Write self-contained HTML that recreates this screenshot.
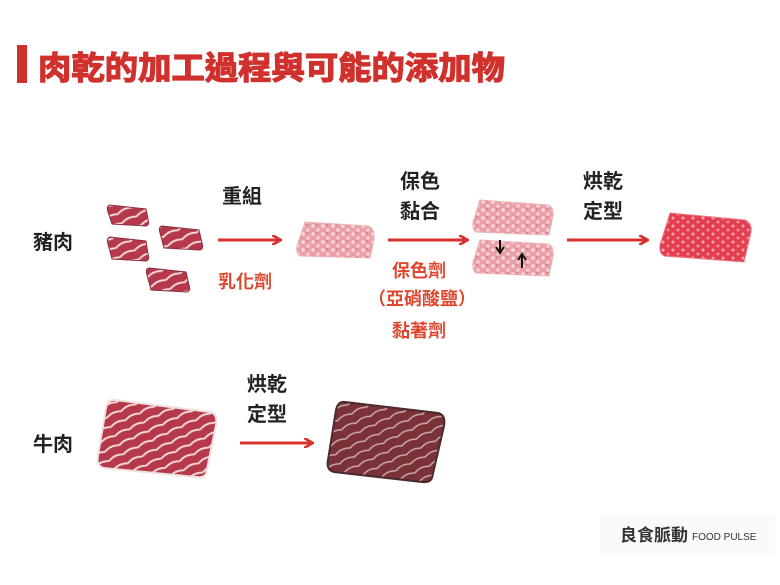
<!DOCTYPE html>
<html><head><meta charset="utf-8"><style>
body{margin:0;background:#fff;}
svg{display:block;}
text{font-family:"Liberation Sans","Noto Sans CJK TC",sans-serif;}
</style></head><body>
<svg width="780" height="585" viewBox="0 0 780 585" xmlns="http://www.w3.org/2000/svg">
<defs>
<marker id="ah" markerWidth="10" markerHeight="10" refX="8" refY="5" orient="auto" markerUnits="userSpaceOnUse"><path d="M0,0 L9,5 L0,10" fill="none" stroke="#d8322e" stroke-width="2.6"/></marker>
<pattern id="marb" width="10" height="8" patternUnits="userSpaceOnUse"><rect width="10" height="8" fill="#eaa0a6"/><circle cx="3" cy="2" r="1.8" fill="#f8dcdf"/><circle cx="8" cy="6" r="1.8" fill="#f6d0d4"/><circle cx="7" cy="1" r="1" fill="#d77a84"/></pattern>
<pattern id="marb2" width="10" height="8" patternUnits="userSpaceOnUse"><rect width="10" height="8" fill="#e33d50"/><circle cx="3" cy="2" r="1.5" fill="#f5a8b1"/><circle cx="8" cy="6" r="1.5" fill="#f2909c"/></pattern>
<pattern id="strk" width="16" height="10" patternUnits="userSpaceOnUse" patternTransform="rotate(-25)"><rect width="16" height="10" fill="#b5394a"/><path d="M0,4 Q8,0 16,4" stroke="#f3d8da" stroke-width="2" fill="none"/></pattern>
<pattern id="strk2" width="16" height="10" patternUnits="userSpaceOnUse" patternTransform="rotate(-25)"><rect width="16" height="10" fill="#7a3138"/><path d="M0,4 Q8,0 16,4" stroke="#c9a9ab" stroke-width="1.6" fill="none"/></pattern>
</defs>
<rect x="17" y="45" width="10" height="38" fill="#d0312d"/>
<text x="38" y="79" font-size="32" font-weight="bold" fill="#d0312d" stroke="#d0312d" stroke-width="1.2" textLength="467" lengthAdjust="spacingAndGlyphs">肉乾的加工過程與可能的添加物</text>

<g font-size="20" fill="#222" font-weight="bold">
<text x="33" y="249">豬肉</text>
<text x="222" y="203">重組</text>
<text x="400" y="188">保色</text>
<text x="400" y="218">黏合</text>
<text x="583" y="188">烘乾</text>
<text x="583" y="218">定型</text>
<text x="33" y="451">牛肉</text>
<text x="247" y="391">烘乾</text>
<text x="247" y="421">定型</text>
</g>
<g font-size="18" fill="#e0462e" font-weight="bold">
<text x="218" y="288">乳化劑</text>
<text x="392" y="277">保色劑</text>
<text x="368" y="305">（亞硝酸鹽）</text>
<text x="392" y="337">黏著劑</text>
</g>

<g stroke="#d8322e" stroke-width="3" marker-end="url(#ah)">
<line x1="218" y1="240" x2="280" y2="240"/>
<line x1="388" y1="240" x2="467" y2="240"/>
<line x1="567" y1="240" x2="647" y2="240"/>
<line x1="240" y1="443" x2="312" y2="443"/>
</g>

<g stroke="#8a3040" stroke-width="1">
<path d="M110,205 Q106,206 108,212 L112,224 L146,226 Q150,225 148,219 L146,209 Z" fill="url(#strk)"/>
<path d="M110,237 Q106,238 108,244 L112,259 L146,261 Q150,260 148,254 L146,241 Z" fill="url(#strk)"/>
<path d="M162,226 Q158,227 160,233 L164,248 L200,250 Q204,249 202,243 L199,230 Z" fill="url(#strk)"/>
<path d="M149,268 Q145,269 147,275 L151,290 L187,292 Q191,291 189,285 L186,272 Z" fill="url(#strk)"/>
</g>
<path d="M305,222 L368,226 Q375,228 374,240 L370,258 L300,256 Q296,254 297,246 Z" fill="url(#marb)" stroke="#eab4b9"/>
<path d="M480,200 L548,205 Q554,207 553,216 L549,235 L476,232 Q472,230 473,222 Z" fill="url(#marb)" stroke="#eab4b9"/>
<path d="M480,240 L548,244 Q554,246 553,256 L549,276 L476,273 Q472,271 473,262 Z" fill="url(#marb)" stroke="#eab4b9"/>
<path d="M500,240 L500,252 M496,247 L500,253 L504,247 M522,268 L522,256 M518,260 L522,254 L526,260" stroke="#111" stroke-width="2" fill="none"/>
<path d="M670,213 L745,220 Q752,223 751,232 L744,262 L664,256 Q659,253 660,245 Z" fill="url(#marb2)" stroke="#ef7a86"/>

<path d="M115,400 L210,412 Q218,414 216,425 L206,474 Q204,478 196,477 L104,468 Q96,466 98,456 L106,408 Q108,399 115,400 Z" fill="url(#strk)" stroke="#f1e0e0" stroke-width="2"/>
<path d="M345,402 L438,413 Q446,415 444,426 L432,478 Q430,483 422,482 L334,472 Q326,470 328,460 L336,410 Q338,401 345,402 Z" fill="url(#strk2)" stroke="#4a2a2e" stroke-width="2"/>

<rect x="600" y="515" width="175" height="40" fill="#fafaf8"/>
<text x="620" y="541" font-size="17" font-weight="bold" fill="#333">良食脈動</text>
<text x="692" y="540" font-size="10" fill="#333">FOOD PULSE</text>
</svg>
</body></html>
